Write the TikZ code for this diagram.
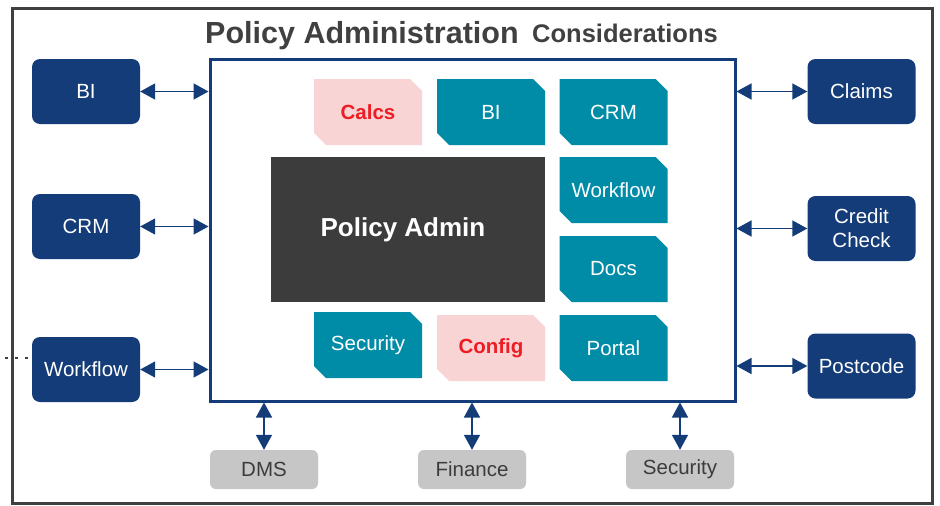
\documentclass[tikz,border=0pt]{standalone}
\usepackage{fontspec}
\setmainfont{Liberation Sans}
\usetikzlibrary{arrows.meta,shapes.misc}
\definecolor{navy}{HTML}{143C78}
\definecolor{modteal}{HTML}{008BA7}
\definecolor{modpink}{HTML}{F9D4D4}
\definecolor{modred}{HTML}{EE1D23}
\definecolor{coredark}{HTML}{3C3C3C}
\definecolor{framegray}{HTML}{404040}
\definecolor{boxgray}{HTML}{C6C6C6}
\definecolor{boxtext}{HTML}{3C3C3C}
\begin{document}
\begin{tikzpicture}[x=1pt,y=-1pt,
  lbl/.style={font=\fontsize{20.5}{24}\selectfont},
  ext/.style={lbl, rounded corners=8pt, fill=navy, text=white,
    minimum width=108pt, minimum height=65pt, inner sep=0pt, align=center},
  mod/.style={lbl, chamfered rectangle,
    chamfered rectangle corners={north east,south west},
    chamfered rectangle sep=6pt, minimum width=108pt, minimum height=66pt,
    inner sep=0pt, fill=modteal, text=white},
  modhot/.style={mod, fill=modpink, text=modred, font=\bfseries\fontsize{20.5}{24}\selectfont},
  svc/.style={lbl, rounded corners=6pt, fill=boxgray, text=boxtext,
    minimum width=108pt, minimum height=39pt, inner sep=0pt},
  link/.style={navy, line width=1.5pt,
    {Triangle[length=15pt,width=16pt]}-{Triangle[length=15pt,width=16pt]}},
  ttl/.style={anchor=base west, inner sep=0pt, text=framegray}
]
\useasboundingbox (0,0) rectangle (940,506);
\fill[white] (0,0) rectangle (940,506);

% outer frame
\draw[framegray, line width=3pt] (12,8.5) rectangle (932,503);

% heading
\node[ttl, font=\bfseries\fontsize{30.5}{36}\selectfont] (ttlmain) at (205,43) {Policy Administration};
\node[ttl, font=\bfseries\fontsize{25.5}{30}\selectfont] (ttlsub) at (532,42) {Considerations};

% policy administration boundary
\node[draw=navy, line width=3pt, minimum width=525pt, minimum height=342pt, inner sep=0pt] (core) at (472.5,230) {};

% inner modules
\node[modhot] (calcs) at (368,112) {Calcs};
\node[mod] (ibi) at (491,112) {BI};
\node[mod] (icrm) at (613.5,112) {CRM};
\node[fill=coredark, text=white, minimum width=274pt, minimum height=145pt, inner sep=0pt,
  font=\bfseries\fontsize{26}{30}\selectfont] (padmin) at (408,229.5) {Policy Admin\hspace*{10pt}};
\node[mod] (iwf) at (613.5,190) {Workflow};
\node[mod] (idocs) at (613.5,269) {Docs};
\node[mod] (isec) at (368,345) {Security};
\node[modhot] (config) at (491,348) {Config};
\node[mod] (portal) at (613.5,348) {Portal};

% external systems, left
\node[ext] (lbi) at (86,91.5) {BI};
\node[ext] (lcrm) at (86,226.5) {CRM};
\node[ext] (lwf) at (86,369.5) {Workflow};

% external systems, right
\node[ext] (claims) at (861.5,91.5) {Claims};
\node[ext] (credit) at (861.5,228.5) {Credit\\Check};
\node[ext] (postcode) at (861.5,366) {Postcode};

% supporting services, below
\node[svc] (dms) at (264,469.5) {DMS};
\node[svc] (finance) at (472,469.5) {Finance};
\node[svc] (bsec) at (680,469.5) {Security};

% connectors
\draw[link] (lbi.east) -- (core.west |- lbi.east);
\draw[link] (lcrm.east) -- (core.west |- lcrm.east);
\draw[link] (lwf.east) -- (core.west |- lwf.east);
\draw[link] (core.east |- claims.west) -- (claims.west);
\draw[link] (core.east |- credit.west) -- (credit.west);
\draw[link] (core.east |- postcode.west) -- (postcode.west);
\draw[link] (core.south -| dms.north) -- (dms.north);
\draw[link] (core.south -| finance.north) -- (finance.north);
\draw[link] (core.south -| bsec.north) -- (bsec.north);

% dotted lead-in to the workflow system
\coordinate (lead) at (5,358);
\draw[framegray, line width=2.5pt, dash pattern=on 2.5pt off 7.5pt] (lead) -- (lwf.west |- lead);
\end{tikzpicture}
\end{document}
